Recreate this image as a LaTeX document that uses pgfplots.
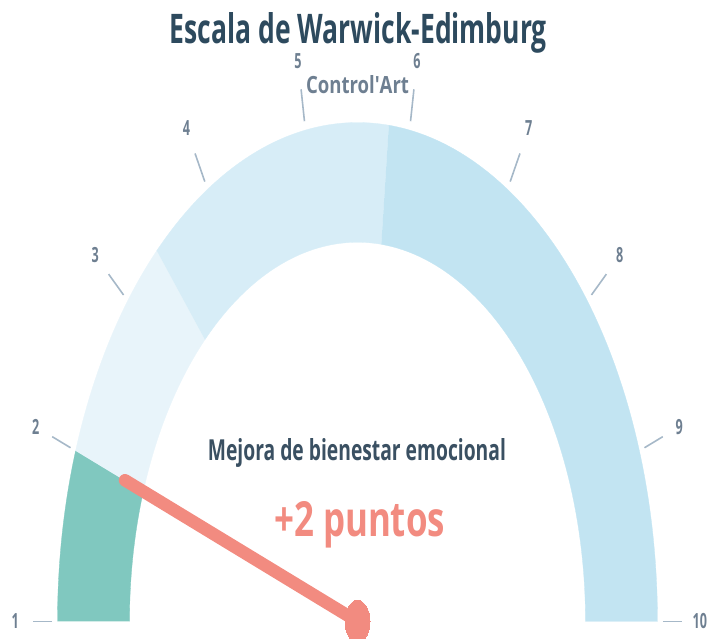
\documentclass[border=0pt]{standalone}
\usepackage{pgfplots}
\pgfplotsset{compat=1.18}
\usepackage{fontspec}
\setmainfont{Open Sans}
\usepackage{graphicx}
\definecolor{gGreen}{HTML}{80C8BF}
\definecolor{gBa}{HTML}{E8F4FA}
\definecolor{gBb}{HTML}{D7EDF7}
\definecolor{gBc}{HTML}{C2E4F2}
\definecolor{needle}{HTML}{F28B80}
\definecolor{tickc}{HTML}{A6B8C8}
\definecolor{lab}{HTML}{6E7F91}
\definecolor{dark}{HTML}{2D4A5E}
\definecolor{dark2}{HTML}{3A5062}
% band from gauge value #1 to #2, colour #3 (gauge 1..10 over 180..0 degrees)
\newcommand{\band}[3]{%
\addplot[draw=#3, line width=0.3pt, fill=#3, domain=0:3, samples=181, variable=\t]
 ({(\t<1 ? 1 : (\t<2 ? 1-0.24*(\t-1) : 0.76))*cos(200-20*(\t<1 ? #1+(#2-#1)*\t : (\t<2 ? #2 : #2-(#2-#1)*(\t-2))))},
  {(\t<1 ? 1 : (\t<2 ? 1-0.24*(\t-1) : 0.76))*sin(200-20*(\t<1 ? #1+(#2-#1)*\t : (\t<2 ? #2 : #2-(#2-#1)*(\t-2))))});
}
\begin{document}
\begin{tikzpicture}
\begin{axis}[scale only axis, width=710pt, height=639pt,
  xmin=-1.19167, xmax=1.175, ymin=-0.03507, ymax=1.24549,
  hide axis, clip=false]
% coloured bands of the gauge
\band{1}{2}{gGreen}
\band{2}{3.4}{gBa}
\band{3.4}{5.8}{gBb}
\band{5.8}{10}{gBc}
% ticks and labels
\pgfplotsinvokeforeach{1,...,10}{
  \addplot[tickc, line width=1.6pt, domain=1.018:1.083, samples=2]
    ({x*cos(200-20*#1)},{x*sin(200-20*#1)});
  \node[text=lab, inner sep=0pt, anchor=center] at (axis cs:{1.141*cos(200-20*#1)},{1.141*sin(200-20*#1)})
    {\scalebox{1}[1.66]{\fontsize{12.6}{14}\selectfont\bfseries #1}};
}
% needle at value 2
\addplot[color=needle, line width=12.5pt, line cap=round] coordinates {(0,0) (-0.775,0.283)};
\addplot[color=needle, only marks, mark=*, mark size=12.5pt, mark options={fill=needle, draw=needle, line width=0pt, yscale=1.68}] coordinates {(0,0)};
% texts
\node[text=dark, inner sep=0pt, anchor=base] at (axis cs:0.003,1.1583)
  {\resizebox{377pt}{31pt}{\bfseries Escala de Warwick-Edimburg}};
\node[text=lab, inner sep=0pt, anchor=base] at (axis cs:0,1.0571)
  {\resizebox{103pt}{18pt}{\bfseries Control\textquotesingle Art}};
\node[text=dark2, inner sep=0pt, anchor=base] at (axis cs:-0.002,0.3236)
  {\resizebox{298pt}{22pt}{\bfseries Mejora de bienestar emocional}};
\node[text=needle, inner sep=0pt, anchor=base] at (axis cs:0.007,0.1713)
  {\resizebox{171pt}{35pt}{\bfseries +2 puntos}};
\end{axis}
\pgfresetboundingbox
\useasboundingbox (current axis.south west) rectangle (current axis.north east);
\end{tikzpicture}
\end{document}
